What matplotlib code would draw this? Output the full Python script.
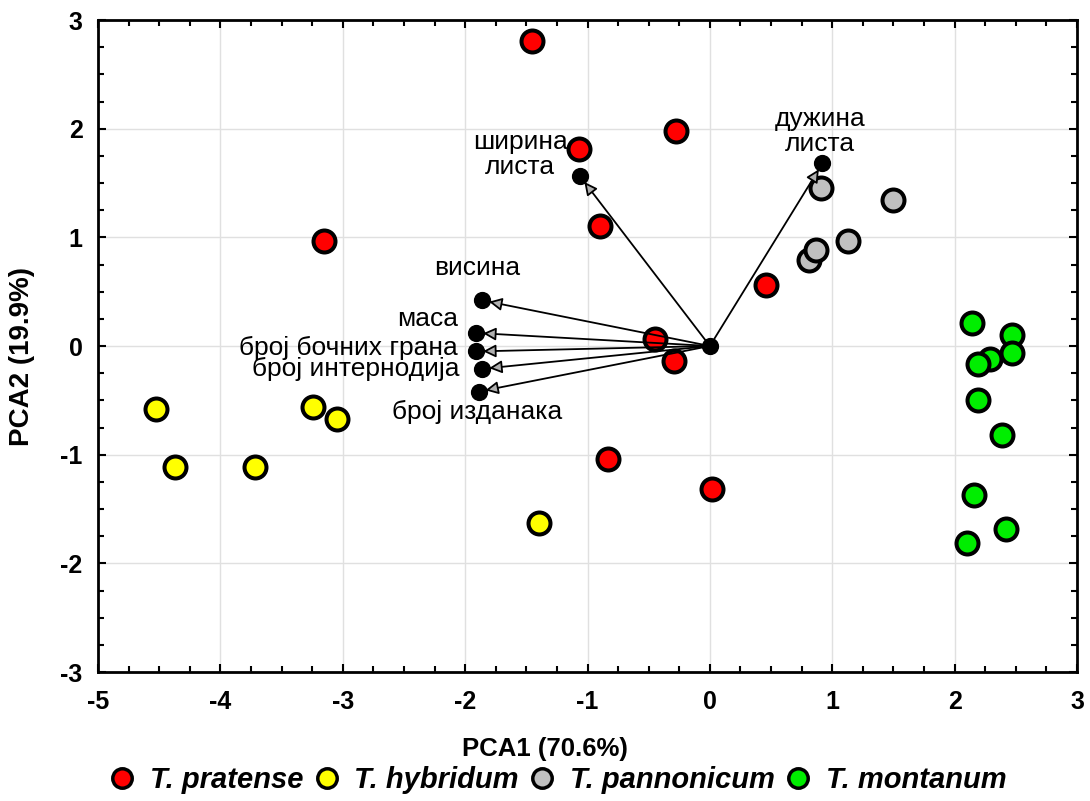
import matplotlib
matplotlib.use("Agg")
import matplotlib.pyplot as plt
from matplotlib.ticker import MultipleLocator
from matplotlib.lines import Line2D

plt.rcParams['font.family'] = ['Liberation Sans', 'DejaVu Sans']
plt.rcParams['axes.unicode_minus'] = False

# PCA scores per species
pratense_x = [-1.45, -0.28, -1.07, -0.90, -3.15, 0.46, -0.45, -0.29, -0.83, 0.02]
pratense_y = [2.81, 1.98, 1.81, 1.10, 0.97, 0.56, 0.06, -0.14, -1.04, -1.32]

hybridum_x = [-4.53, -4.37, -3.72, -3.24, -3.05, -1.40]
hybridum_y = [-0.58, -1.11, -1.11, -0.56, -0.67, -1.63]

pannonicum_x = [0.91, 1.50, 0.81, 0.87, 1.13]
pannonicum_y = [1.45, 1.34, 0.79, 0.88, 0.97]

montanum_x = [2.14, 2.47, 2.29, 2.47, 2.19, 2.19, 2.39, 2.16, 2.42, 2.10]
montanum_y = [0.21, 0.10, -0.12, -0.06, -0.17, -0.50, -0.82, -1.37, -1.68, -1.81]

# Variable loadings
var_names = ['висина', 'маса', 'број бочних грана', 'број интернодија',
             'број изданака', 'ширина\nлиста', 'дужина\nлиста']
var_x = [-1.86, -1.91, -1.91, -1.86, -1.89, -1.06, 0.92]
var_y = [0.42, 0.12, -0.05, -0.21, -0.42, 1.56, 1.68]

species = ['T. pratense', 'T. hybridum', 'T. pannonicum', 'T. montanum']
colors = ['#ff0000', '#ffff00', '#c0c0c0', '#00ee00']

W, H = 1090, 801
L, R, T, B = 98, 1077, 20, 672

fig = plt.figure(figsize=(W / 100, H / 100), dpi=100)
ax = fig.add_axes([L / W, 1 - B / H, (R - L) / W, (B - T) / H])

ax.set_xlim(-5, 3)
ax.set_ylim(-3, 3)
ax.xaxis.set_major_locator(MultipleLocator(1))
ax.yaxis.set_major_locator(MultipleLocator(1))
ax.xaxis.set_minor_locator(MultipleLocator(0.25))
ax.yaxis.set_minor_locator(MultipleLocator(0.25))
ax.grid(True, which='major', color='#e0e0e0', lw=1.0, zorder=0)
ax.tick_params(which='both', direction='in', top=True, right=True, width=1.5)
ax.tick_params(which='major', length=6, labelsize=18)
ax.tick_params(which='minor', length=4)
ax.tick_params(axis='x', which='major', pad=13)
ax.tick_params(axis='y', which='major', pad=11)
for lbl in ax.get_xticklabels() + ax.get_yticklabels():
    lbl.set_fontweight('bold')
for sp in ax.spines.values():
    sp.set_linewidth(2)

marker_kw = dict(s=250, edgecolors='black', linewidths=2.9, zorder=3)
groups = [(pratense_x, pratense_y), (hybridum_x, hybridum_y),
          (pannonicum_x, pannonicum_y), (montanum_x, montanum_y)]
for (gx, gy), c in zip(groups, colors):
    ax.scatter(gx, gy, color=c, **marker_kw)

# Loading vectors from the origin
for vx, vy in zip(var_x, var_y):
    ax.annotate('', xy=(vx, vy), xytext=(0, 0),
                arrowprops=dict(arrowstyle='-|>', fc='#b0b0b0', ec='black', lw=1.3,
                                mutation_scale=19, shrinkA=0, shrinkB=5),
                zorder=4)
ax.scatter(var_x + [0], var_y + [0], s=130, color='black', zorder=5)

label_pos = {
    'висина': (-1.90, 0.72, 'center'),
    'маса': (-2.06, 0.25, 'right'),
    'број бочних грана': (-2.06, -0.02, 'right'),
    'број интернодија': (-2.05, -0.21, 'right'),
    'број изданака': (-1.90, -0.61, 'center'),
    'ширина\nлиста': (-1.55, 1.76, 'center'),
    'дужина\nлиста': (0.90, 1.97, 'center'),
}
for name in var_names:
    tx, ty, ha = label_pos[name]
    ax.text(tx, ty, name, fontsize=19, ha=ha, va='center', linespacing=1.05, zorder=6)

ax.set_xlabel('PCA1 (70.6%)', fontsize=18.5, fontweight='bold')
ax.xaxis.set_label_coords((545 - L) / (R - L), -(737 - B) / (B - T))
ax.set_ylabel('PCA2 (19.9%)', fontsize=20, fontweight='bold')
ax.yaxis.set_label_coords(-(L - 35) / (R - L), (B - 357) / (B - T))

handles = [Line2D([], [], marker='o', ls='', markersize=14, markerfacecolor=c,
                  markeredgecolor='black', markeredgewidth=2.5) for c in colors]
fig.legend(handles, species, loc='center', bbox_to_anchor=(557 / W, 1 - 780 / H),
           ncol=4, frameon=False, handletextpad=0.45, columnspacing=0.3,
           handlelength=1.0, prop=dict(size=21, weight='bold', style='italic'))

fig.savefig('out.png', dpi=100)
